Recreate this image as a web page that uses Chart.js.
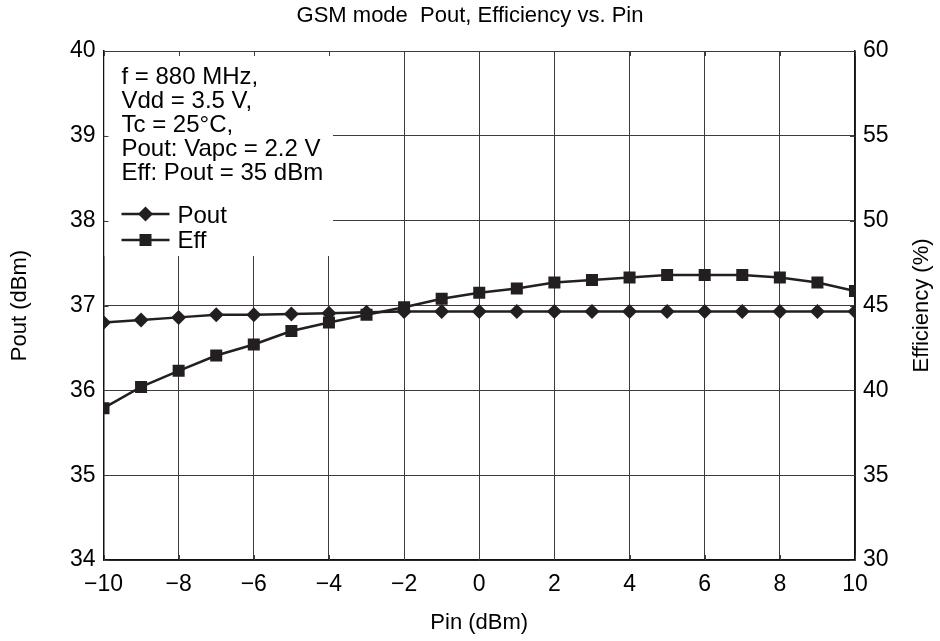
<!DOCTYPE html>
<html>
<head>
<meta charset="utf-8">
<script src="https://cdn.jsdelivr.net/npm/chart.js@4.4.1/dist/chart.umd.min.js"></script>
<style>
  html, body { margin: 0; padding: 0; background: #fff; }
  #wrap { width: 940px; height: 641px; position: relative; }
</style>
</head>
<body>
<div id="wrap"><canvas id="c" width="940" height="641"></canvas></div>
<script>
// ---- data ----
const pinValues = [-10, -9, -8, -7, -6, -5, -4, -3, -2, -1, 0, 1, 2, 3, 4, 5, 6, 7, 8, 9, 10];
const poutValues = [36.80, 36.83, 36.86, 36.89, 36.89, 36.90, 36.91, 36.92, 36.93, 36.93, 36.93, 36.93, 36.93, 36.93, 36.93, 36.93, 36.93, 36.93, 36.93, 36.93, 36.93];
const effValues = [38.95, 40.2, 41.15, 42.05, 42.7, 43.5, 44.0, 44.45, 44.9, 45.4, 45.75, 46.0, 46.35, 46.5, 46.65, 46.8, 46.8, 46.8, 46.65, 46.35, 45.85];
const xTickValues = [-10, -8, -6, -4, -2, 0, 2, 4, 6, 8, 10];
const leftTickValues = [34, 35, 36, 37, 38, 39, 40];
const rightTickValues = [30, 35, 40, 45, 50, 55, 60];
const titleText = 'GSM mode  Pout, Efficiency vs. Pin';
const xTitle = 'Pin (dBm)';
const yTitle = 'Pout (dBm)';
const y1Title = 'Efficiency (%)';
const noteLines = ['f = 880 MHz,', 'Vdd = 3.5 V,', 'Tc = 25\u00B0C,', 'Pout: Vapc = 2.2 V', 'Eff: Pout = 35 dBm'];
const legendLabels = ['Pout', 'Eff'];

const FONT = '"Liberation Sans", Arial, Helvetica, sans-serif';
const GRID = '#3c3c3c';
const INK = '#231f20';

Chart.defaults.font.family = FONT;
Chart.defaults.color = '#000';

function diamond(ctx, x, y, r) {
  ctx.beginPath();
  ctx.moveTo(x, y - r); ctx.lineTo(x + r, y); ctx.lineTo(x, y + r); ctx.lineTo(x - r, y);
  ctx.closePath(); ctx.fill();
}
function square(ctx, x, y, h) {
  ctx.fillRect(x - h, y - h, 2 * h, 2 * h);
}

const notesPlugin = {
  id: 'notes',
  beforeDatasetsDraw(chart) {
    const { ctx, chartArea: ca, scales } = chart;
    ctx.save();
    // white notes box covering grid
    const boxRight = scales.x.getPixelForValue(-4) + 4;
    const boxBottom = ca.top + 205;
    ctx.fillStyle = '#fff';
    ctx.fillRect(ca.left + 1, ca.top + 1, boxRight - ca.left - 1, boxBottom - ca.top - 1);
    // inner tick stubs
    ctx.strokeStyle = GRID; ctx.lineWidth = 1;
    ctx.beginPath();
    xTickValues.forEach(v => {
      const px = Math.round(scales.x.getPixelForValue(v)) + 0.5;
      ctx.moveTo(px, ca.top); ctx.lineTo(px, ca.top + 5);
      ctx.moveTo(px, ca.bottom); ctx.lineTo(px, ca.bottom - 5);
    });
    leftTickValues.forEach(v => {
      const py = Math.round(scales.y.getPixelForValue(v)) + 0.5;
      ctx.moveTo(ca.left, py); ctx.lineTo(ca.left + 5, py);
      ctx.moveTo(ca.right, py); ctx.lineTo(ca.right - 5, py);
    });
    ctx.stroke();
    // notes text
    ctx.fillStyle = '#000';
    ctx.font = '24px ' + FONT;
    ctx.textBaseline = 'alphabetic';
    ctx.textAlign = 'left';
    const tx = ca.left + 18;
    noteLines.forEach((t, i) => ctx.fillText(t, tx, ca.top + 33 + i * 24));
    // legend samples
    const ly = [ca.top + 163, ca.top + 189];
    ctx.strokeStyle = INK; ctx.lineWidth = 2.5; ctx.fillStyle = INK;
    ly.forEach((y, i) => {
      ctx.beginPath(); ctx.moveTo(tx, y); ctx.lineTo(tx + 48, y); ctx.stroke();
      if (i === 0) diamond(ctx, tx + 24, y, 7.5); else square(ctx, tx + 24, y, 6);
    });
    ctx.fillStyle = '#000';
    ctx.fillText(legendLabels[0], tx + 56, ly[0] + 9);
    ctx.fillText(legendLabels[1], tx + 56, ly[1] + 8);
    ctx.restore();
  },
  afterDraw(chart) {
    const { ctx, chartArea: ca } = chart;
    ctx.save();
    ctx.fillStyle = '#000';
    ctx.font = '22px ' + FONT;
    ctx.textAlign = 'center';
    ctx.textBaseline = 'middle';
    ctx.translate(922, (ca.top + ca.bottom) / 2);
    ctx.rotate(-Math.PI / 2);
    ctx.fillText(y1Title, 0, 0);
    ctx.restore();
  }
};

const minusFmt = v => String(v).replace('-', '\u2212');

new Chart(document.getElementById('c'), {
  type: 'line',
  data: {
    datasets: [
      {
        label: legendLabels[0],
        data: pinValues.map((x, i) => ({ x, y: poutValues[i] })),
        yAxisID: 'y',
        borderColor: INK, backgroundColor: INK, borderWidth: 2.5,
        pointStyle: 'rectRot', pointRadius: 7.5, pointBorderWidth: 0,
        tension: 0
      },
      {
        label: legendLabels[1],
        data: pinValues.map((x, i) => ({ x, y: effValues[i] })),
        yAxisID: 'y1',
        borderColor: INK, backgroundColor: INK, borderWidth: 2.5,
        pointStyle: 'rect', pointRadius: 8.5, pointBorderWidth: 0,
        tension: 0
      }
    ]
  },
  options: {
    responsive: false,
    animation: false,
    events: [],
    layout: { padding: 0 },
    plugins: {
      legend: { display: false },
      tooltip: { enabled: false },
      title: {
        display: true, text: titleText, color: '#000',
        font: { size: 22, weight: 'normal', family: FONT, lineHeight: 1.2 },
        padding: { top: 3, bottom: 21.6 }
      }
    },
    scales: {
      x: {
        type: 'linear', min: -10, max: 10,
        afterBuildTicks: s => { s.ticks = xTickValues.map(v => ({ value: v })); },
        ticks: { callback: minusFmt, font: { size: 23 }, color: '#000', padding: 11, maxRotation: 0, autoSkip: false },
        grid: { color: GRID, lineWidth: 1, drawTicks: false },
        border: { color: '#111', width: 1.5 },
        title: { display: true, text: xTitle, color: '#000', font: { size: 22 }, padding: { top: 0, bottom: 5 } },
        afterFit: s => { s.height = 81; }
      },
      y: {
        type: 'linear', position: 'left', min: 34, max: 40,
        afterBuildTicks: s => { s.ticks = leftTickValues.map(v => ({ value: v })); },
        ticks: { font: { size: 23 }, color: '#000', padding: 8 },
        grid: { color: GRID, lineWidth: 1, drawTicks: false },
        border: { color: '#111', width: 1.5 },
        title: { display: true, text: yTitle, color: '#000', font: { size: 22 }, padding: { top: 6.5, bottom: 0 } },
        afterFit: s => { s.width = 103.5; }
      },
      y1: {
        type: 'linear', position: 'right', min: 30, max: 60,
        afterBuildTicks: s => { s.ticks = rightTickValues.map(v => ({ value: v })); },
        ticks: { font: { size: 23 }, color: '#000', padding: 8 },
        grid: { drawOnChartArea: false, drawTicks: false },
        border: { color: '#111', width: 1.5 },
        title: { display: false },
        afterFit: s => { s.width = 85; }
      }
    }
  },
  plugins: [notesPlugin]
});
</script>
</body>
</html>
